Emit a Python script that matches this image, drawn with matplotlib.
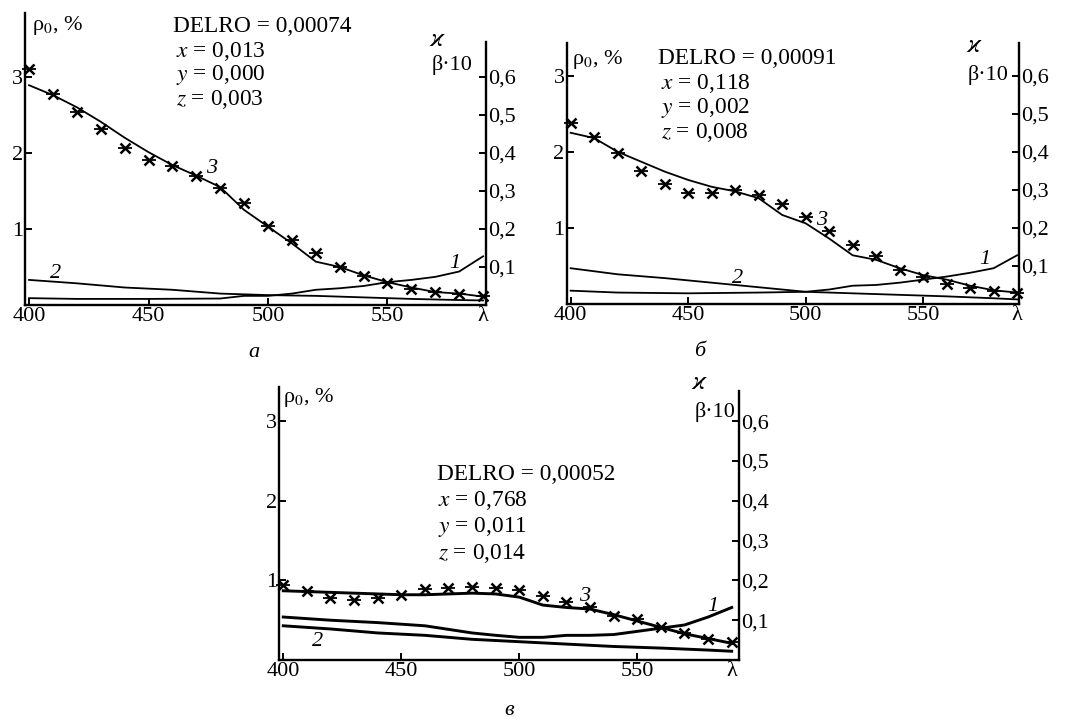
import numpy as np
import matplotlib
matplotlib.use("Agg")
import matplotlib.pyplot as plt

plt.rcParams["font.family"] = ["Liberation Serif", "DejaVu Serif"]
plt.rcParams["mathtext.fontset"] = "stix"

# wavelengths of the measured points and of curve 3
lam = np.arange(400, 600, 10)

# ---- panel a ----
a_fit = [2.89, 2.76, 2.60, 2.41, 2.20, 2.01, 1.84, 1.70, 1.55, 1.25,
         1.03, 0.81, 0.57, 0.50, 0.39, 0.30, 0.23, 0.17, 0.15, 0.11]
a_meas = [3.11, 2.77, 2.54, 2.31, 2.06, 1.91, 1.83, 1.70, 1.54, 1.34,
          1.04, 0.86, 0.68, 0.50, 0.38, 0.29, 0.21, 0.17, 0.14, 0.12]
a_lam1 = [400, 420, 450, 480, 490, 500, 510, 520, 530, 540, 550, 560, 570, 580, 590]
a_c1 = [0.018, 0.016, 0.016, 0.017, 0.024, 0.024, 0.030, 0.040, 0.044, 0.050,
        0.060, 0.066, 0.074, 0.088, 0.128]
a_lam2 = [400, 420, 440, 460, 480, 500, 520, 540, 560, 580, 590]
a_c2 = [0.066, 0.057, 0.046, 0.040, 0.030, 0.026, 0.024, 0.020, 0.016, 0.013, 0.012]
a_text = ["DELRO = 0,00074", "0,013", "0,000", "0,003"]

# ---- panel b ----
b_fit = [2.25, 2.18, 2.00, 1.87, 1.74, 1.63, 1.54, 1.48, 1.39, 1.17,
         1.06, 0.86, 0.64, 0.58, 0.47, 0.38, 0.32, 0.24, 0.18, 0.15]
b_meas = [2.38, 2.19, 1.99, 1.75, 1.58, 1.46, 1.46, 1.50, 1.43, 1.32,
          1.14, 0.96, 0.78, 0.63, 0.44, 0.35, 0.26, 0.21, 0.17, 0.15]
b_lam1 = [400, 420, 450, 480, 500, 510, 520, 530, 540, 550, 560, 570, 580, 590]
b_c1 = [0.035, 0.030, 0.028, 0.030, 0.032, 0.038, 0.048, 0.050, 0.056, 0.064,
        0.072, 0.082, 0.094, 0.128]
b_lam2 = [400, 420, 440, 460, 480, 500, 520, 540, 560, 580, 590]
b_c2 = [0.094, 0.078, 0.068, 0.056, 0.044, 0.032, 0.028, 0.024, 0.020, 0.015, 0.012]
b_text = ["DELRO = 0,00091", "0,118", "0,002", "0,008"]

# ---- panel c ----
c_fit = [0.87, 0.86, 0.85, 0.84, 0.83, 0.82, 0.82, 0.83, 0.84, 0.83,
         0.79, 0.69, 0.66, 0.64, 0.57, 0.49, 0.41, 0.33, 0.27, 0.21]
c_meas = [0.94, 0.87, 0.78, 0.755, 0.78, 0.82, 0.89, 0.91, 0.92, 0.91,
          0.88, 0.80, 0.73, 0.66, 0.55, 0.51, 0.41, 0.34, 0.27, 0.22]
c_lam1 = [400, 420, 440, 460, 480, 490, 500, 510, 520, 530, 540, 550, 560, 570, 580, 590]
c_c1 = [0.108, 0.100, 0.094, 0.086, 0.068, 0.062, 0.057, 0.057, 0.062, 0.062,
        0.064, 0.072, 0.080, 0.088, 0.108, 0.132]
c_lam2 = [400, 420, 440, 460, 480, 500, 520, 540, 560, 580, 590]
c_c2 = [0.086, 0.078, 0.068, 0.062, 0.052, 0.046, 0.040, 0.034, 0.030, 0.025, 0.022]
c_text = ["DELRO = 0,00052", "0,768", "0,011", "0,014"]

x_ticks = [400, 450, 500, 550, 590]
x_labels = ["400", "450", "500", "550", "λ"]
left_ticks = [1, 2, 3]
right_ticks = [0.1, 0.2, 0.3, 0.4, 0.5, 0.6]
right_labels = ["0,1", "0,2", "0,3", "0,4", "0,5", "0,6"]


def draw_panel(rect, fit, meas, lam1, c1, lam2, c2, info, xlim, ytop, rtop, lw, pos):
    ax = fig.add_axes(rect)
    ax.set_xlim(*xlim)
    ax.set_ylim(0, ytop)
    ax2 = ax.twinx()
    ax2.set_ylim(0, ytop / 5)

    ax.plot(lam, fit, color="black", lw=lw)
    ax.plot(lam, meas, ls="none", marker="x", ms=6.5, mew=1.8, color="black", clip_on=False)
    ax.plot(lam, meas, ls="none", marker="_", ms=10, mew=1.3, color="black", clip_on=False)
    ax2.plot(lam1, c1, color="black", lw=lw)
    ax2.plot(lam2, c2, color="black", lw=lw)

    for s in ("top", "right"):
        ax.spines[s].set_visible(False)
    for s in ("top", "left", "bottom"):
        ax2.spines[s].set_visible(False)
    ax2.spines["right"].set_bounds(0, rtop)
    for sp in list(ax.spines.values()) + [ax2.spines["right"]]:
        sp.set_linewidth(1.7)

    ax.set_xticks(x_ticks)
    ax.set_xticklabels(x_labels)
    ax.xaxis.get_major_ticks()[-1].tick1line.set_visible(False)
    ax.set_yticks(left_ticks)
    ax2.set_yticks(right_ticks)
    ax2.set_yticklabels(right_labels)
    ax.tick_params(direction="in", length=5, width=1.4, labelsize=16, pad=1.5)
    ax2.tick_params(direction="in", length=5, width=1.4, labelsize=16, pad=1.5)

    kw = dict(fontsize=16, va="center", clip_on=False)
    ax.text(*pos["rho"], "ρ$_0$, %", ha="left", **kw)
    ax.text(*pos["kappa"], r"$\varkappa$", ha="center", fontsize=19, va="center")
    ax.text(*pos["beta"], "β·10", ha="left", **kw)
    x0, y0, dy = pos["info"]
    ax.text(x0, y0, info[0], ha="left", fontsize=16.8, va="center")
    for i, var in enumerate(["x", "y", "z"]):
        ax.text(x0 + pos["indent"], y0 - dy * (i + 1), f"${var}$ = {info[i + 1]}",
                ha="left", fontsize=16.8, va="center")
    for num, (lx, ly) in zip(["1", "2", "3"], pos["nums"]):
        ax.text(lx, ly, num, style="italic", ha="center", **kw)
    ax.text(*pos["panel"], pos["letter"], style="italic", ha="center", **kw)
    return ax


fig = plt.figure(figsize=(10.72, 7.26), dpi=100)

draw_panel([0.0233, 0.5799, 0.4300, 0.4022], a_fit, a_meas, a_lam1, a_c1, a_lam2, a_c2,
           a_text, (398.3, 591.2), 3.84, 0.692, 1.3,
           dict(rho=(401.3, 3.68), kappa=(571.1, 3.48), beta=(568.5, 3.16),
                info=(460.3, 3.66, 0.32), indent=1.2,
                nums=[(578.2, 0.55), (410.9, 0.42), (476.6, 1.80)],
                panel=(494.1, -0.62), letter="а"))

draw_panel([0.5286, 0.5813, 0.4222, 0.3595], b_fit, b_meas, b_lam1, b_c1, b_lam2, b_c2,
           b_text, (398.3, 590.9), 3.43, 0.687, 1.3,
           dict(rho=(400.4, 3.21), kappa=(572.0, 3.39), beta=(569.0, 3.01),
                info=(437.3, 3.22, 0.32), indent=1.0,
                nums=[(576.3, 0.58), (471.2, 0.34), (506.8, 1.10)],
                panel=(455.0, -0.63), letter="б"))

draw_panel([0.2605, 0.0909, 0.4291, 0.3760], c_fit, c_meas, c_lam1, c_c1, c_lam2, c_c2,
           c_text, (398.3, 593.2), 3.43, 0.677, 2.1,
           dict(rho=(399.9, 3.30), kappa=(576.6, 3.48), beta=(574.4, 3.12),
                info=(465.1, 2.33, 0.33), indent=0.5,
                nums=[(582.0, 0.67), (414.7, 0.23), (527.8, 0.80)],
                panel=(495.6, -0.63), letter="в"))

fig.savefig("out.png", dpi=100)
